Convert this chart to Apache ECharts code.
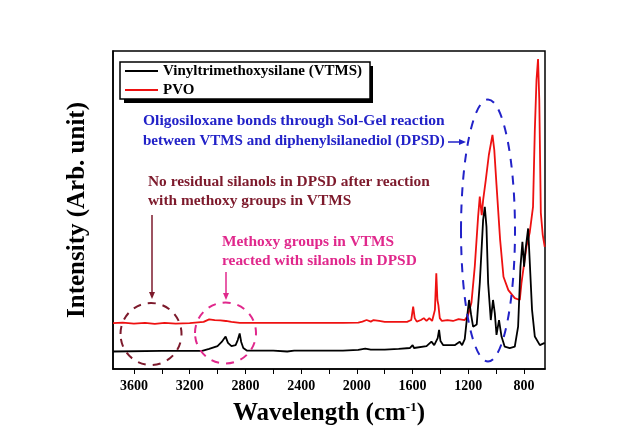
<!DOCTYPE html>
<html><head><meta charset="utf-8">
<script src="https://cdn.jsdelivr.net/npm/echarts@6/dist/echarts.min.js"></script>
<style>html,body{margin:0;padding:0;background:#fff}#c{width:633px;height:442px}</style>
</head><body><div id="c"></div>
<script>
var vtmsWn = [3750,3400,3110,3060,3000,2970,2942,2925,2900,2870,2855,2841,2830,2815,2790,2600,2500,2450,2100,1990,1940,1900,1800,1700,1620,1600,1590,1500,1465,1445,1420,1410,1400,1380,1298,1262,1245,1226,1210,1195,1180,1166,1140,1118,1094,1082,1070,1058,1039,1023,1010,998,980,962,939,903,867,843,826,812,800,790,771,760,743,723,687,652];
var vtmsI = [5.5,5.7,5.7,6.3,7.2,8.5,10.2,8.2,7.2,7.5,9.1,11.2,8.5,6.6,5.8,5.8,5.5,5.8,5.8,6.0,6.4,6.1,6.1,6.3,6.6,7.5,6.6,7.2,8.6,7.5,9.7,12.3,8.8,7.5,7.5,8.6,7.5,9.4,16,21.7,17,13.3,14,27.0,46.9,51.0,44.7,27.0,15.4,21.7,17.5,10.7,15.4,10.2,7.0,6.6,7.0,13.3,32.2,40.0,32.2,37.4,44.2,34.3,18.6,10.2,7.5,8.2];
var pvoWn = [3750,3680,3600,3520,3450,3380,3300,3200,3100,3060,3020,2980,2940,2900,2840,2700,2400,2100,1990,1960,1930,1900,1880,1840,1800,1700,1640,1610,1596,1585,1570,1540,1520,1500,1480,1460,1440,1430,1422,1415,1405,1390,1350,1310,1270,1226,1204,1178,1154,1130,1118,1104,1094,1075,1053,1027,1014,998,972,948,913,867,831,819,783,760,736,723,711,700,691,680,666,652];
var pvoI = [14.4,14.6,14.3,14.5,14.2,14.5,14.3,14.4,14.8,15.6,15.4,15.3,15.1,14.8,14.5,14.5,14.5,14.5,14.6,14.9,15.4,14.9,15.4,15.1,14.8,14.8,14.8,15.4,19.6,16.0,14.9,15.4,16.0,15.1,16.0,15.1,18.6,30.1,21.7,20.1,16.0,15.1,15.4,15.1,15.7,15.4,16.7,20.8,32.2,47.9,54.2,48.4,53.1,59.4,67.3,73.6,68.9,57.9,40.6,29.0,24.8,22.3,21.7,27.0,38.5,42.8,51.0,75.2,90.9,97.5,84.6,49.1,42.1,38.4];
var seriesNames = ['Vinyltrimethoxysilane (VTMS)', 'PVO'];
var tickLabels = [3600,3200,2800,2400,2000,1600,1200,800];
var tickMarks = [3600,3400,3200,3000,2800,2600,2400,2200,2000,1800,1600,1400,1200,1000,800];

function pairs(xs, ys){ return xs.map(function(x,i){ return [x, ys[i]]; }); }
var FF = '"Liberation Serif","Times New Roman",serif';
var MAROON = '#7d1a2c', MAGENTA = '#e0288c', BLUE = '#2222c8';

function txt(x, y, s, color, sx){
  return {type:'text', x:x, y:y, scaleX:sx||1.1, z:10, style:{text:s, fill:color, font:'bold 14px '+FF}};
}
function arrowDown(x, y1, y2, color){
  return [
    {type:'line', z:10, shape:{x1:x,y1:y1,x2:x,y2:y2-4}, style:{stroke:color, lineWidth:1.5}},
    {type:'polygon', z:10, shape:{points:[[x-3,y2-7],[x+3,y2-7],[x,y2]]}, style:{fill:color}}
  ];
}

var chart = echarts.init(document.getElementById('c'));
var graphics = [
  {type:'rect', z:1, shape:{x:124, y:66, width:249, height:37}, style:{fill:'#000'}},
  {type:'ellipse', z:10, shape:{cx:151, cy:334, rx:30.5, ry:31}, style:{fill:'none', stroke:MAROON, lineWidth:2, lineDash:[8,7]}},
  {type:'ellipse', z:10, shape:{cx:225.5, cy:333, rx:30.5, ry:30.5}, style:{fill:'none', stroke:MAGENTA, lineWidth:2, lineDash:[8,7]}},
  {type:'ellipse', z:10, shape:{cx:488, cy:230.5, rx:27, ry:131}, style:{fill:'none', stroke:BLUE, lineWidth:2, lineDash:[9,8]}},
  txt(143, 114, 'Oligosiloxane bonds through Sol-Gel reaction', BLUE, 1.11),
  txt(143, 134, 'between VTMS and diphenylsilanediol (DPSD)', BLUE, 1.075),
  {type:'line', z:10, shape:{x1:448,y1:142,x2:460,y2:142}, style:{stroke:BLUE, lineWidth:1.5}},
  {type:'polygon', z:10, shape:{points:[[459,139],[459,145],[466,142]]}, style:{fill:BLUE}},
  txt(148, 175, 'No residual silanols in DPSD after reaction', MAROON),
  txt(148, 194, 'with methoxy groups in VTMS', MAROON),
  txt(222, 235, 'Methoxy groups in VTMS', MAGENTA),
  txt(222, 254, 'reacted with silanols in DPSD', MAGENTA)
].concat(arrowDown(152, 215, 299, MAROON)).concat(arrowDown(226, 272, 300, MAGENTA));

chart.setOption({
  animation:false,
  backgroundColor:'#fff',
  grid:{left:113, right:88, top:51, height:318, show:true, borderColor:'#000', borderWidth:1.5, backgroundColor:'transparent'},
  legend:{
    orient:'vertical', left:120, top:62, z:5,
    data:[{name:seriesNames[0], icon:'rect'}, {name:seriesNames[1], icon:'rect'}],
    itemWidth:33, itemHeight:2, itemGap:3, padding:[1,8,1,5],
    backgroundColor:'#fff', borderColor:'#000', borderWidth:1.5,
    textStyle:{fontFamily:FF, fontWeight:'bold', fontSize:15, lineHeight:16, color:'#000'}
  },
  xAxis:{
    type:'value', min:650, max:3750, inverse:true,
    axisLine:{show:true, lineStyle:{color:'#000', width:1.5}},
    axisTick:{show:true, customValues:tickMarks, length:5, inside:false, lineStyle:{color:'#000', width:1}},
    axisLabel:{customValues:tickLabels, formatter:function(v){return String(v);}, fontFamily:FF, fontWeight:'bold', fontSize:14, color:'#000', margin:10},
    splitLine:{show:false},
    name:'{a|Wavelength (cm}{s|-1}{a|)}', nameLocation:'middle', nameGap:32,
    nameTextStyle:{rich:{a:{fontFamily:FF, fontWeight:'bold', fontSize:25, color:'#000'}, s:{fontFamily:FF, fontWeight:'bold', fontSize:13, color:'#000', verticalAlign:'top', padding:[0,0,10,0]}}}
  },
  yAxis:{
    type:'value', min:0, max:100,
    axisLine:{show:true, lineStyle:{color:'#000', width:1.5}},
    axisTick:{show:false}, axisLabel:{show:false}, splitLine:{show:false},
    name:'Intensity (Arb. unit)', nameLocation:'middle', nameGap:23,
    nameTextStyle:{fontFamily:FF, fontWeight:'bold', fontSize:25, color:'#000'}
  },
  series:[
    {name:seriesNames[0], type:'line', data:pairs(vtmsWn, vtmsI), symbol:'none', lineStyle:{color:'#000', width:1.8}, itemStyle:{color:'#000'}, z:3},
    {name:seriesNames[1], type:'line', data:pairs(pvoWn, pvoI), symbol:'none', lineStyle:{color:'#ee1111', width:1.8}, itemStyle:{color:'#ee1111'}, z:2}
  ],
  graphic:graphics
});
</script></body></html>
